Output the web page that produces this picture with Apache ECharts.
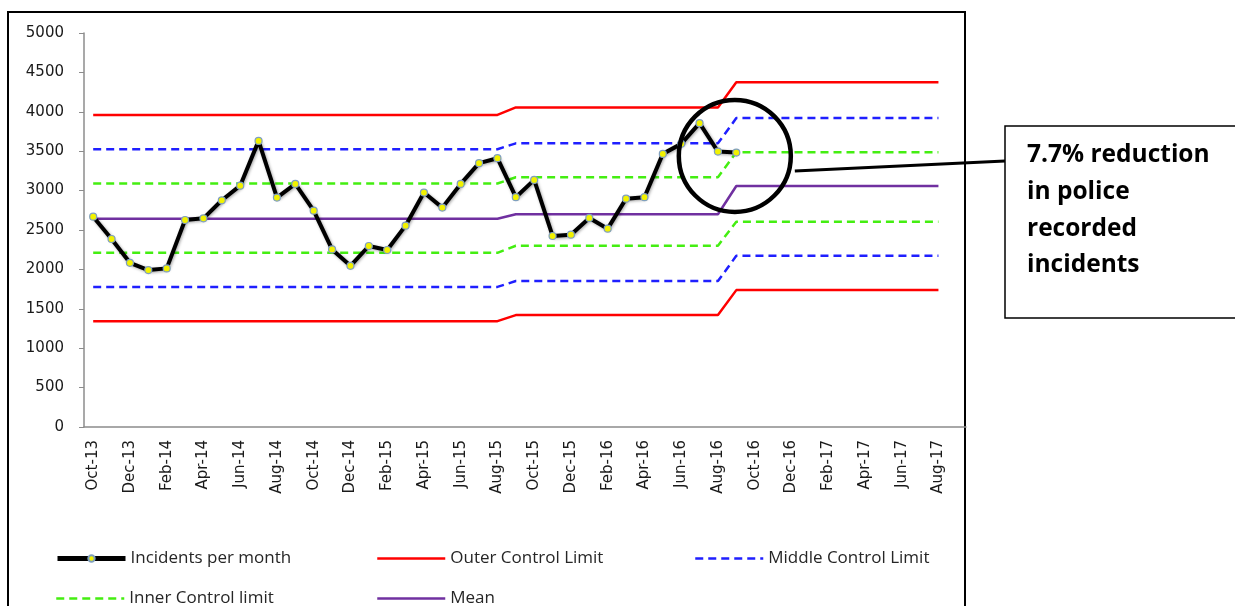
<!DOCTYPE html>
<html>
<head>
<meta charset="utf-8">
<script src="https://cdn.jsdelivr.net/npm/echarts@6/dist/echarts.min.js"></script>
<style>
  html, body { margin: 0; padding: 0; background: #fff; }
  #chart { width: 1235px; height: 606px; }
</style>
</head>
<body>
<div id="chart"></div>
<script>
// months on the category axis (labels shown every 2nd)
const months = [
  "Oct-13", "Nov-13", "Dec-13", "Jan-14", "Feb-14", "Mar-14", "Apr-14", "May-14", "Jun-14", "Jul-14", "Aug-14", "Sep-14",
  "Oct-14", "Nov-14", "Dec-14", "Jan-15", "Feb-15", "Mar-15", "Apr-15", "May-15", "Jun-15", "Jul-15", "Aug-15", "Sep-15",
  "Oct-15", "Nov-15", "Dec-15", "Jan-16", "Feb-16", "Mar-16", "Apr-16", "May-16", "Jun-16", "Jul-16", "Aug-16", "Sep-16",
  "Oct-16", "Nov-16", "Dec-16", "Jan-17", "Feb-17", "Mar-17", "Apr-17", "May-17", "Jun-17", "Jul-17", "Aug-17", "Sep-17",
]

const incidents = [
  2669, 2386, 2084, 1992, 2013, 2627, 2648, 2877, 3063, 3631, 2911, 3085,
  2745, 2254, 2046, 2297, 2246, 2555, 2975, 2784, 3085, 3348, 3411, 2916,
  3136, 2424, 2441, 2653, 2517, 2898, 2916, 3466, 3593, 3856, 3495, 3483,
]

const outerUpper = [
  3960, 3960, 3960, 3960, 3960, 3960, 3960, 3960, 3960, 3960, 3960, 3960,
  3960, 3960, 3960, 3960, 3960, 3960, 3960, 3960, 3960, 3960, 3960, 4055,
  4055, 4055, 4055, 4055, 4055, 4055, 4055, 4055, 4055, 4055, 4055, 4375,
  4375, 4375, 4375, 4375, 4375, 4375, 4375, 4375, 4375, 4375, 4375,
]
const middleUpper = [
  3525, 3525, 3525, 3525, 3525, 3525, 3525, 3525, 3525, 3525, 3525, 3525,
  3525, 3525, 3525, 3525, 3525, 3525, 3525, 3525, 3525, 3525, 3525, 3600,
  3600, 3600, 3600, 3600, 3600, 3600, 3600, 3600, 3600, 3600, 3600, 3920,
  3920, 3920, 3920, 3920, 3920, 3920, 3920, 3920, 3920, 3920, 3920,
]
const innerUpper = [
  3090, 3090, 3090, 3090, 3090, 3090, 3090, 3090, 3090, 3090, 3090, 3090,
  3090, 3090, 3090, 3090, 3090, 3090, 3090, 3090, 3090, 3090, 3090, 3170,
  3170, 3170, 3170, 3170, 3170, 3170, 3170, 3170, 3170, 3170, 3170, 3487,
  3487, 3487, 3487, 3487, 3487, 3487, 3487, 3487, 3487, 3487, 3487,
]
const mean = [
  2642, 2642, 2642, 2642, 2642, 2642, 2642, 2642, 2642, 2642, 2642, 2642,
  2642, 2642, 2642, 2642, 2642, 2642, 2642, 2642, 2642, 2642, 2642, 2700,
  2700, 2700, 2700, 2700, 2700, 2700, 2700, 2700, 2700, 2700, 2700, 3058,
  3058, 3058, 3058, 3058, 3058, 3058, 3058, 3058, 3058, 3058, 3058,
]
const innerLower = [
  2210, 2210, 2210, 2210, 2210, 2210, 2210, 2210, 2210, 2210, 2210, 2210,
  2210, 2210, 2210, 2210, 2210, 2210, 2210, 2210, 2210, 2210, 2210, 2300,
  2300, 2300, 2300, 2300, 2300, 2300, 2300, 2300, 2300, 2300, 2300, 2606,
  2606, 2606, 2606, 2606, 2606, 2606, 2606, 2606, 2606, 2606, 2606,
]
const middleLower = [
  1778, 1778, 1778, 1778, 1778, 1778, 1778, 1778, 1778, 1778, 1778, 1778,
  1778, 1778, 1778, 1778, 1778, 1778, 1778, 1778, 1778, 1778, 1778, 1852,
  1852, 1852, 1852, 1852, 1852, 1852, 1852, 1852, 1852, 1852, 1852, 2172,
  2172, 2172, 2172, 2172, 2172, 2172, 2172, 2172, 2172, 2172, 2172,
]
const outerLower = [
  1343, 1343, 1343, 1343, 1343, 1343, 1343, 1343, 1343, 1343, 1343, 1343,
  1343, 1343, 1343, 1343, 1343, 1343, 1343, 1343, 1343, 1343, 1343, 1420,
  1420, 1420, 1420, 1420, 1420, 1420, 1420, 1420, 1420, 1420, 1420, 1737,
  1737, 1737, 1737, 1737, 1737, 1737, 1737, 1737, 1737, 1737, 1737,
]

const noteText = "7.7% reduction\nin police\nrecorded\nincidents"

const AXIS_FONT = "DejaVu Sans"
const LEGEND_FONT = "Open Sans"

function limitLine(name, data, color, type, width) {
  return {
    name: name,
    type: "line",
    data: data,
    symbol: "none",
    silent: true,
    itemStyle: { color: color },
    lineStyle: { color: color, type: type, width: width },
    z: 2,
  }
}

// one legend per entry, so each can sit where Excel put it
function legendAt(name, left, top, lineWidth, withSymbol) {
  return {
    data: [name],
    left: left,
    top: top,
    itemWidth: 68,
    itemHeight: withSymbol ? 8 : 14,
    selectedMode: false,
    itemStyle: withSymbol ? {} : { opacity: 0 },
    lineStyle: { width: lineWidth },
    textStyle: { fontFamily: LEGEND_FONT, fontSize: 17, color: "#262626" },
  }
}

const myChart = echarts.init(document.getElementById("chart"))

const option = {
  backgroundColor: "#fff",
  animation: false,
  grid: { left: 84, top: 33, width: 882, height: 394 },
  legend: [
    legendAt("Incidents per month", 50, 545, 5, true),
    legendAt("Outer Control Limit", 371, 545, 2.5, false),
    legendAt("Middle Control Limit", 689, 545, 2.5, false),
    legendAt("Inner Control limit", 50, 585, 2.5, false),
    legendAt("Mean", 371, 585, 2.5, false),
  ],
  xAxis: {
    type: "category",
    data: months,
    boundaryGap: true,
    axisLine: { lineStyle: { color: "#8c8c8c", width: 1.5 } },
    axisTick: { interval: 1, length: 5, lineStyle: { color: "#8c8c8c" } },
    axisLabel: {
      interval: 1,
      rotate: 90,
      margin: 13,
      color: "#1a1a1a",
      fontFamily: AXIS_FONT,
      fontSize: 15,
    },
    splitLine: { show: false },
  },
  yAxis: {
    type: "value",
    min: 0,
    max: 5000,
    interval: 500,
    axisLine: { show: true, lineStyle: { color: "#8c8c8c", width: 1.5 } },
    axisTick: { show: true, length: 5, lineStyle: { color: "#8c8c8c" } },
    axisLabel: {
      margin: 20,
      color: "#1a1a1a",
      fontFamily: AXIS_FONT,
      fontSize: 15,
      formatter: (v) => String(v),
    },
    splitLine: { show: false },
  },
  series: [
    limitLine("Outer Control Limit", outerUpper, "#ff0000", "solid", 2.5),
    limitLine("Outer Control Limit", outerLower, "#ff0000", "solid", 2.5),
    limitLine("Middle Control Limit", middleUpper, "#1f1fff", [8, 5], 2.5),
    limitLine("Middle Control Limit", middleLower, "#1f1fff", [8, 5], 2.5),
    limitLine("Inner Control limit", innerUpper, "#44ee11", [8, 5], 2.5),
    limitLine("Inner Control limit", innerLower, "#44ee11", [8, 5], 2.5),
    limitLine("Mean", mean, "#7030a0", "solid", 2.5),
    {
      name: "Incidents per month",
      type: "line",
      data: incidents,
      symbol: "circle",
      symbolSize: 7,
      showAllSymbol: true,
      itemStyle: { color: "#f2f200", borderColor: "#7f9fbf", borderWidth: 1.2 },
      lineStyle: {
        color: "#000",
        width: 4,
        shadowColor: "rgba(0,0,0,0.35)",
        shadowBlur: 3,
        shadowOffsetX: 1,
        shadowOffsetY: 1,
      },
      z: 5,
    },
  ],
}

myChart.setOption(option)

// annotation: circle round the last points, connector and note box
const center = myChart.convertToPixel({ xAxisIndex: 0, yAxisIndex: 0 }, ["Sep-16", 3440])
const cx = center[0] - 1.5
const cy = center[1]
myChart.setOption({
  graphic: [
    {
      type: "rect",
      shape: { x: 8, y: 12, width: 957, height: 620 },
      style: { fill: "none", stroke: "#000", lineWidth: 2 },
      silent: true,
    },
    {
      type: "circle",
      shape: { cx: cx, cy: cy, r: 56 },
      style: { fill: "none", stroke: "#000", lineWidth: 4.5 },
      z: 10,
    },
    {
      type: "line",
      shape: { x1: cx + 60, y1: cy + 15, x2: 1005, y2: 161 },
      style: { stroke: "#000", lineWidth: 3 },
      z: 10,
    },
    {
      type: "rect",
      shape: { x: 1005, y: 126, width: 240, height: 192 },
      style: { fill: "#fff", stroke: "#000", lineWidth: 1.5 },
      z: 10,
    },
    {
      type: "text",
      x: 1027,
      y: 137,
      z: 11,
      style: {
        text: noteText,
        fill: "#000",
        font: "bold 24.5px 'Open Sans'",
        lineHeight: 36.7,
        verticalAlign: "top",
      },
    },
  ],
})

window.addEventListener("resize", () => myChart.resize())
</script>
</body>
</html>
